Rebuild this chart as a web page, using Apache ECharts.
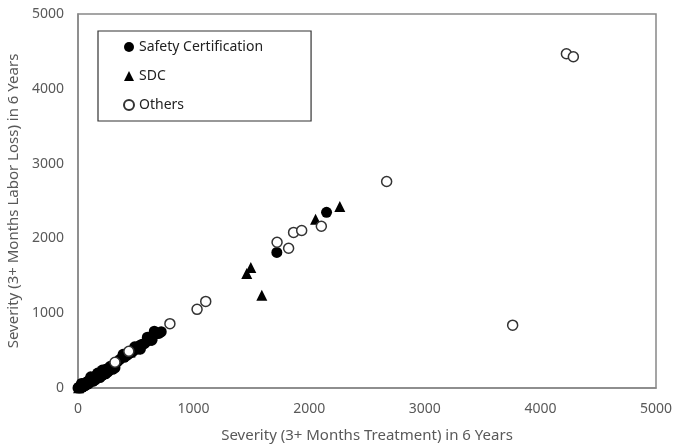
<!DOCTYPE html>
<html>
<head>
<meta charset="utf-8">
<script src="https://cdn.jsdelivr.net/npm/echarts@6/dist/echarts.min.js"></script>
<style>
    html, body { margin: 0; padding: 0; background: #fff; }
    #chart { width: 677px; height: 445px; }
</style>
</head>
<body>
<div id="chart"></div>
<script>
// [treatment, labor loss]
const safetyCert = [
    [0, 0], [5, 8], [8, -10], [10, 12], [15, 18], [20, 25], [22, 0], [30, 30], [35, 10],
    [40, 45], [45, 20], [50, 52], [55, 35], [60, 65], [65, 45], [70, 72], [75, 50],
    [80, 85], [85, 65], [90, 95], [95, 75], [100, 100], [105, 80], [110, 118], [115, 95],
    [120, 122], [125, 100], [130, 140], [140, 115], [150, 150], [155, 130], [160, 172],
    [170, 145], [180, 182], [185, 160], [200, 212], [200, 180], [215, 195], [220, 222],
    [230, 205], [240, 250], [245, 220], [260, 262], [265, 240], [280, 292], [290, 260],
    [300, 300], [280, 250], [250, 228], [310, 280], [340, 350], [360, 380],
    [30, 60], [60, 30], [90, 55], [110, 150], [130, 90], [150, 110], [170, 200],
    [190, 140], [210, 170], [240, 190], [260, 215], [300, 250], [320, 270], [210, 240],
    [400, 410], [420, 432], [440, 455], [450, 470], [470, 480], [480, 502], [500, 520],
    [520, 540], [530, 565], [550, 582], [570, 590], [580, 600], [600, 630], [620, 652],
    [630, 680], [650, 700], [660, 760], [670, 720], [700, 730], [720, 752],
    [490, 550], [540, 520], [600, 680], [640, 640], [390, 450],
    [1720, 1812], [2150, 2348]
];
const sdc = [
    [5, 5], [20, 20], [50, 55], [100, 105], [150, 160], [200, 200], [250, 262],
    [300, 310], [450, 480], [500, 522], [600, 640],
    [1460, 1532], [1495, 1612], [1590, 1240], [2055, 2255], [2265, 2428]
];
const others = [
    [320, 345], [440, 490], [795, 860],
    [1030, 1052], [1105, 1158], [1722, 1948], [1822, 1868], [1865, 2080],
    [1935, 2105], [2105, 2162], [2670, 2760], [3760, 840], [4225, 4468], [4285, 4428]
];
const ticks = [0, 1000, 2000, 3000, 4000, 5000];

const font = "Noto Sans";
const gray = "#595959";
const chart = echarts.init(document.getElementById("chart"));

function axis(name, gap) {
    return {
        type: "value",
        min: ticks[0],
        max: ticks[ticks.length - 1],
        interval: 1000,
        name: name,
        nameLocation: "middle",
        nameGap: gap,
        nameTextStyle: { color: gray, fontFamily: font, fontSize: 15 },
        axisLine: { show: true, lineStyle: { color: "#888", width: 1.5 } },
        axisTick: { show: false },
        splitLine: { show: false },
        axisLabel: {
            color: gray, fontFamily: font, fontSize: 14, margin: 14,
            formatter: function(v) { return String(v); }
        }
    };
}

chart.setOption({
    animation: false,
    grid: {
        left: 78, right: 21, top: 14, bottom: 57,
        outerBoundsMode: "none",
        containLabel: false,
        show: true, borderColor: "#888", borderWidth: 1.5
    },
    legend: {
        data: ["Safety Certification", "SDC", "Others"],
        orient: "vertical",
        left: 98,
        top: 31,
        padding: [9, 48, 9, 25],
        itemGap: 15,
        itemWidth: 10,
        itemHeight: 10,
        borderColor: "#333",
        borderWidth: 1.2,
        textStyle: { color: "#222", fontFamily: font, fontSize: 14 }
    },
    xAxis: axis("Severity (3+ Months Treatment) in 6 Years", 40),
    yAxis: axis("Severity (3+ Months Labor Loss) in 6 Years", 50),
    series: [
        {
            name: "Others", type: "scatter", data: others, z: 4,
            symbol: "circle", symbolSize: 10,
            itemStyle: { color: "#fff", borderColor: "#333", borderWidth: 1.5, opacity: 1 }
        },
        {
            name: "Safety Certification", type: "scatter", data: safetyCert, z: 3,
            symbol: "circle", symbolSize: 11,
            itemStyle: { color: "#000", opacity: 1 }
        },
        {
            name: "SDC", type: "scatter", data: sdc, z: 3,
            symbol: "triangle", symbolSize: 11,
            itemStyle: { color: "#000", opacity: 1 }
        }
    ]
});
</script>
</body>
</html>
